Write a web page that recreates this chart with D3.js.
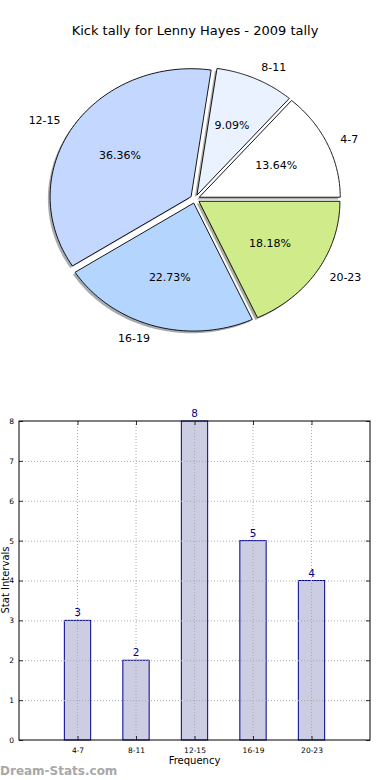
<!DOCTYPE html>
<html><head><meta charset="utf-8">
<script src="https://cdn.jsdelivr.net/npm/d3@7"></script>
<style>
html,body{margin:0;padding:0;background:#fff;}
svg{display:block;font-family:"DejaVu Sans",sans-serif;}
</style></head>
<body>
<svg id="c" width="390" height="780"></svg>
<script>
const title = "Kick tally for Lenny Hayes - 2009 tally";
const categories = ["4-7","8-11","12-15","16-19","20-23"];
const counts = [3,2,8,5,4];
const sliceColors = ["#ffffff","#eaf2ff","#c4d8ff","#b4d6fe","#d0eb8a"];
const yTicks = [0,1,2,3,4,5,6,7,8];
const xLabel = "Frequency";
const yLabel = "Stat Intervals";
const watermark = "Dream-Stats.com";

const svg = d3.select("#c");

// Title
svg.append("text").attr("x",195).attr("y",35).attr("text-anchor","middle")
  .attr("font-size",13).attr("fill","#000").text(title);

// ---- Pie (elliptical, matplotlib style) ----
const cx = 195, cy = 199, rx = 141, ry = 128, explode = 0.033;
const total = d3.sum(counts);
const pie = d3.pie().sort(null).startAngle(0).endAngle(2*Math.PI);
const arcs = pie(counts);
function pt(a, r, ox, oy){ return [ox + r*rx*Math.cos(a), oy - r*ry*Math.sin(a)]; }
function wedgePath(d, ox, oy){
  const n = 80, pts = [[ox,oy]];
  for(let i=0;i<=n;i++){
    const a = d.startAngle + (d.endAngle-d.startAngle)*i/n;
    pts.push(pt(a,1,ox,oy));
  }
  return d3.line()(pts) + "Z";
}
const pieG = svg.append("g");
arcs.forEach((d,i)=>{
  const mid = (d.startAngle+d.endAngle)/2;
  const [ox,oy] = pt(mid, explode, cx, cy);
  d.ox = ox; d.oy = oy; d.mid = mid;
});
// shadows
arcs.forEach((d,i)=>{
  pieG.append("path").attr("d", wedgePath(d, d.ox-2.2, d.oy+2.2))
    .attr("fill", d3.color(sliceColors[i]).darker(3.2)).attr("opacity",0.45);
});
arcs.forEach((d,i)=>{
  pieG.append("path").attr("d", wedgePath(d, d.ox, d.oy))
    .attr("fill", sliceColors[i]).attr("stroke","#000").attr("stroke-width",0.9)
    .attr("stroke-linejoin","miter");
});
arcs.forEach((d,i)=>{
  const [lx,ly] = pt(d.mid, 1.1+explode, cx, cy);
  const c = Math.cos(d.mid);
  pieG.append("text").attr("x",lx).attr("y",ly).attr("dy","0.35em")
    .attr("text-anchor", c>0?"start":"end").attr("font-size",11).text(categories[i]);
  const [px,py] = pt(d.mid, 0.6+explode, cx, cy);
  pieG.append("text").attr("x",px).attr("y",py).attr("dy","0.35em")
    .attr("text-anchor","middle").attr("font-size",11)
    .text((counts[i]/total*100).toFixed(2)+"%");
});

// ---- Bar chart ----
const L = 19, R = 370, T = 421, B = 740;
const x = d3.scaleLinear().domain([-1,5]).range([L,R]);
const y = d3.scaleLinear().domain([0,8]).range([B,T]);
const barW = 0.45;
const g = svg.append("g");

g.selectAll("rect.bar").data(counts).join("rect").attr("class","bar")
  .attr("x",(d,i)=>x(i-barW/2)).attr("width",x(barW)-x(0))
  .attr("y",d=>y(d)).attr("height",d=>y(0)-y(d))
  .attr("fill","#cccce2").attr("stroke","#00008b").attr("stroke-width",1);

// grid
g.selectAll("line.hg").data(yTicks.slice(1,-1)).join("line").attr("class","hg")
  .attr("x1",L).attr("x2",R).attr("y1",d=>y(d)+0.5).attr("y2",d=>y(d)+0.5)
  .attr("stroke","#aaa").attr("stroke-width",1).attr("stroke-dasharray","1,2");
g.selectAll("line.vg").data(categories).join("line").attr("class","vg")
  .attr("x1",(d,i)=>x(i)).attr("x2",(d,i)=>x(i)).attr("y1",T).attr("y2",B)
  .attr("stroke","#aaa").attr("stroke-width",1).attr("stroke-dasharray","1,2");

// axes
const yAxL = d3.axisLeft(y).tickValues(yTicks).tickSize(-4).tickPadding(5).tickFormat(d3.format("d"));
const yAxR = d3.axisRight(y).tickValues(yTicks).tickSize(-4).tickFormat("");
const xAxB = d3.axisBottom(x).tickValues(d3.range(categories.length)).tickSize(-4).tickPadding(8)
  .tickFormat(i=>categories[i]);
const xAxT = d3.axisTop(x).tickValues(d3.range(categories.length)).tickSize(-4).tickFormat("");
function styleAx(sel){
  sel.select(".domain").remove();
  sel.selectAll(".tick line").attr("stroke","#000").attr("stroke-width",0.8);
  sel.selectAll("text").attr("font-size",7.5).attr("fill","#000").attr("font-family","DejaVu Sans");
}
g.append("g").attr("transform",`translate(${L},0)`).call(yAxL).call(styleAx);
g.append("g").attr("transform",`translate(${R},0)`).call(yAxR).call(styleAx);
g.append("g").attr("transform",`translate(0,${B})`).call(xAxB).call(styleAx);
g.append("g").attr("transform",`translate(0,${T})`).call(xAxT).call(styleAx);

g.append("rect").attr("x",L).attr("y",T).attr("width",R-L).attr("height",B-T)
  .attr("fill","none").attr("stroke","#000").attr("stroke-width",1);

// value labels
g.selectAll("text.val").data(counts).join("text").attr("class","val")
  .attr("x",(d,i)=>x(i)).attr("y",d=>y(d)-4).attr("text-anchor","middle")
  .attr("font-size",10.5).attr("fill","#00008b").text(d=>d);

// axis labels
svg.append("text").attr("x",(L+R)/2).attr("y",764).attr("text-anchor","middle")
  .attr("font-size",10).text(xLabel);
svg.append("text").attr("transform","translate(8.5,580) rotate(-90)").attr("text-anchor","middle")
  .attr("font-size",10).text(yLabel);

svg.append("text").attr("x",0).attr("y",775).attr("font-size",12).attr("font-weight","bold")
  .attr("fill","#a8a8a8").text(watermark);
</script>
</body></html>
